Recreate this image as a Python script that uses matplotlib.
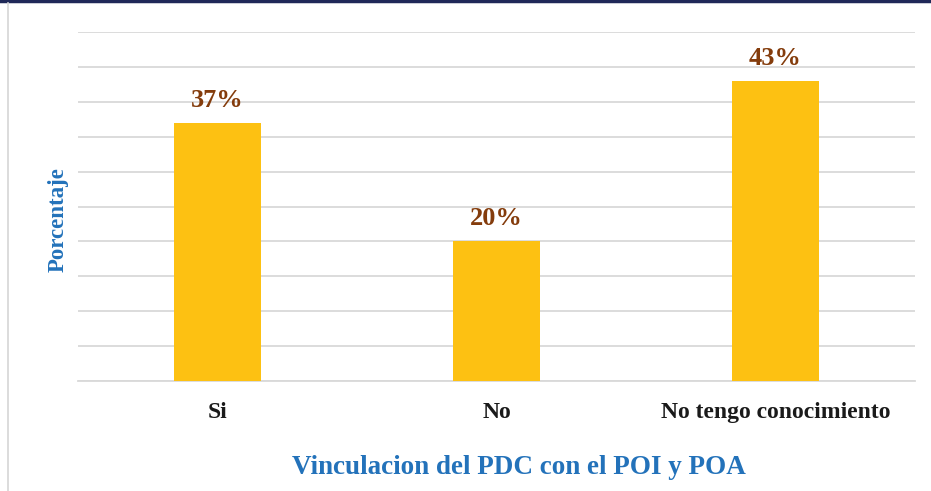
import matplotlib.pyplot as plt
from matplotlib.lines import Line2D

# Data
categories = ['Si', 'No', 'No tengo conocimiento']
porcentajes = [37, 20, 43]
etiquetas = ['37%', '20%', '43%']

plt.rcParams['font.family'] = ['Liberation Serif', 'DejaVu Serif']

fig = plt.figure(figsize=(9.31, 4.91), dpi=100)
ax = fig.add_axes([78 / 931, 1 - 381 / 491, 837 / 931, 349 / 491])

x = range(len(categories))
bars = ax.bar(x, porcentajes, width=0.315, color='#FDC112', zorder=3)

# Labels above the bars
for bar, txt in zip(bars, etiquetas):
    ax.annotate(txt, (bar.get_x() + bar.get_width() / 2, bar.get_height()),
                xytext=(0, 8), textcoords='offset points',
                ha='center', va='bottom', fontsize=19, fontweight='bold',
                color='#843C0C')

ax.set_xlim(-0.5, 2.5)
ax.set_ylim(0, 50)
ax.set_yticks(range(0, 51, 5))
ax.set_yticklabels([])
ax.tick_params(axis='y', length=0)
ax.tick_params(axis='x', length=0, pad=15)
ax.set_xticks(list(x))
ax.set_xticklabels(categories, fontsize=17, fontweight='bold', color='#1a1a1a')
ax.grid(axis='y', color='#d9d9d9', linewidth=1.3, zorder=0)
for s in ['top', 'right', 'left']:
    ax.spines[s].set_visible(False)
ax.spines['bottom'].set_color('#d9d9d9')
ax.spines['bottom'].set_linewidth(1.3)

ax.set_ylabel('Porcentaje', fontsize=16.5, fontweight='bold', color='#2372BA', va='center')
ax.yaxis.set_label_coords(-0.024, 0.464)
ax.set_xlabel('Vinculacion del PDC con el POI y POA', fontsize=19.5,
              fontweight='bold', color='#2372BA', va='center')
ax.xaxis.set_label_coords(0.527, -0.248)

# Frame decorations: dark top band and light left rule
fig.add_artist(Line2D([0, 1], [1 - 1 / 491, 1 - 1 / 491], color='#1F2858', linewidth=2.5))
fig.add_artist(Line2D([8 / 931, 8 / 931], [0, 1 - 3 / 491], color='#d6d6d6', linewidth=1.2))

fig.savefig('out.png', dpi=100)
